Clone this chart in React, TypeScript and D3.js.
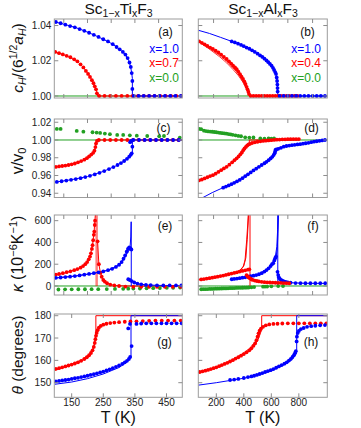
import React from 'react';
import * as d3 from 'd3';

const BLUE = '#0000ff';
const RED = '#ff0000';
const GREEN = '#22a022';
const FONT = 'Liberation Sans, Arial, sans-serif';

// ---------- axes / ticks ----------
const leftDomain = [95, 500];
const rightDomain = [69, 1007];
const leftXLabels = [150, 250, 350, 450];
const rightXLabels = [200, 400, 600, 800];
const leftMinorTicks = [125, 200, 275, 350, 425];
const rightMinorTicks = [180, 360, 540, 720, 900];
const row1Ticks = [1.0, 1.02, 1.04];
const row2Ticks = [0.94, 0.96, 0.98, 1.0, 1.02];
const row3Ticks = [0, 200, 400, 600];
const row4Ticks = [150, 160, 170, 180];
const row1Domain = [0.99886, 1.0437];
const row2Domain = [0.9352, 1.02365];
const row3Domain = [-82.7, 652];
const row4Domain = [143.46, 180.76];

// ---------- panel (a) ----------
const aBlueT = [100,115,130,145,160,175,190,205,220,235,250,265,280,292,302,312,320,327,333,337,340,342,342,346,362,378,395,412,428,445,462,478,495];
const aBlueC = [1.0420,1.0413,1.0405,1.0397,1.0390,1.0380,1.0370,1.0359,1.0347,1.0335,1.0322,1.0310,1.0294,1.0278,1.0265,1.0250,1.0235,1.0215,1.0190,1.0165,1.0130,1.0085,1.0040,1,1,1,1,1,1,1,1,1,1];
const aRedT = [98,110,122,134,146,158,168,178,187,195,202,208,214,219,223,227,230,237,254,272,290,308,326,343,360,378,395,412,430,447,464,481,498];
const aRedC = [1.0250,1.0243,1.0236,1.0228,1.0220,1.0208,1.0197,1.0180,1.0162,1.0142,1.0125,1.0108,1.0090,1.0073,1.0055,1.0038,1.0015,1,1,1,1,1,1,1,1,1,1,1,1,1,1,1,1];
const aBlueLineT = [97,130,160,190,220,250,280,302,320,330,336,340,342,342,500];
const aBlueLineC = [1.0421,1.0405,1.0390,1.0370,1.0347,1.0322,1.0294,1.0265,1.0235,1.0203,1.0170,1.0130,1.0100,1.0,1.0];
const aRedLineT = [97,134,166,187,206,218,227,231,232,500];
const aRedLineC = [1.0251,1.0228,1.0200,1.0162,1.0115,1.0077,1.0040,1.0011,1.0,1.0];

// ---------- panel (b) ----------
const bBlueT = [312,335,358,380,400,420,440,460,480,500,518,535,550,565,578,590,602,612,620,628,634,639,642,644,645,646,660,690,720,750,780,810,840,870,900,930,960,990];
const bBlueC = [1.0310,1.0304,1.0297,1.0290,1.0283,1.0275,1.0268,1.0259,1.0250,1.0240,1.0230,1.0222,1.0212,1.0202,1.0192,1.0182,1.0172,1.0160,1.0148,1.0136,1.0125,1.0105,1.0085,1.0065,1.0045,1.0025,1,1,1,1,1,1,1,1,1,1,1,1];
const bBlueLineT = [69,150,230,312,380,445,500,542,580,603,620,634,643,646,647,1007];
const bBlueLineC = [1.0373,1.0355,1.0333,1.0310,1.0290,1.0266,1.0240,1.0219,1.0190,1.0172,1.0148,1.0125,1.0077,1.0030,1.0,1.0];
const bRedT = [75,95,115,135,155,175,195,215,235,255,275,292,308,322,336,348,360,372,383,394,403,412,420,427,433,438,450,470,490,510,530,550,570,590,610,630,650,670,690,710,730,750,770,790];
const bRedC = [1.0310,1.0302,1.0293,1.0284,1.0275,1.0267,1.0257,1.0247,1.0235,1.0222,1.0210,1.0197,1.0184,1.0172,1.0162,1.0152,1.0138,1.0124,1.0110,1.0097,1.0083,1.0068,1.0052,1.0038,1.0024,1.0011,1,1,1,1,1,1,1,1,1,1,1,1,1,1,1,1,1,1];
const bRedLineT = [75,150,225,275,322,360,394,420,438,445,800];
const bRedLine1C = [1.0310,1.0278,1.0240,1.0210,1.0172,1.0138,1.0097,1.0052,1.0011,1.0,1.0];
const bRedLine2C = [1.0308,1.0272,1.0230,1.0198,1.0160,1.0126,1.0086,1.0044,1.0008,1.0,1.0];
const bRedLine3C = [1.0306,1.0266,1.0222,1.0188,1.0150,1.0116,1.0078,1.0038,1.0005,1.0,1.0];

// ---------- panel (c) ----------
const cGreenT = [103,115,166,187,216,229,240,255,271,294,313,334,356,389,427,442,492];
const cGreenV = [1.0125,1.0125,1.0102,1.0094,1.0087,1.0083,1.0080,1.0072,1.0065,1.0057,1.0057,1.0053,1.0049,1.0045,1.0042,1.0045,1.0026];
const cRedT = [100,110,120,130,140,150,160,170,180,190,198,205,212,218,222,225,227,230,236,254,272,290,308,326,344,362,380,398,416,434,452,470,488];
const cRedV = [0.9697,0.9702,0.9707,0.9712,0.9718,0.9726,0.9735,0.9748,0.9762,0.9778,0.9795,0.9815,0.9836,0.9855,0.9880,0.9920,0.9960,0.9990,1,1,1,1,1,1,1,1,1,1,1,1,1,1,1];
const cRedLineT = [97,130,160,190,205,218,222,225,227,230,233,500];
const cRedLineV = [0.9695,0.9712,0.9735,0.9778,0.9815,0.9855,0.9880,0.9920,0.9960,0.9990,1.0,1.0];
const cBlueT = [103,118,133,148,163,178,193,208,223,238,253,268,282,295,306,316,325,332,337,340,342,335,338,345,363,381,399,417,435,453,471,489];
const cBlueV = [0.9527,0.9535,0.9543,0.9551,0.9560,0.9570,0.9582,0.9596,0.9612,0.9630,0.9650,0.9672,0.9695,0.9718,0.9740,0.9763,0.9788,0.9812,0.9833,0.9850,0.9925,0.9975,0.9990,1,1,1,1,1,1,1,1,1];
const cBlueLineT = [100,150,200,250,290,316,332,340,342,342,500];
const cBlueLineV = [0.9526,0.9553,0.9588,0.9646,0.9708,0.9763,0.9812,0.9850,0.9860,1.0,1.0];

// ---------- panel (d) ----------
const dGreenT = [75,90,110,125,140,155,170,185,200,215,230,245,260,275,290,305,320,340,360,380,410,440,470,520,550,580,600,620];
const dGreenV = [1.0125,1.0122,1.0105,1.0100,1.0097,1.0095,1.0093,1.0090,1.0087,1.0084,1.0080,1.0077,1.0074,1.0071,1.0067,1.0063,1.0058,1.0052,1.0046,1.0042,1.0030,1.0027,1.0028,1.0018,1.0015,1.0018,1.0015,1.0017];
const dRedT = [75,95,115,135,155,175,195,215,235,255,275,295,315,332,348,362,375,386,396,405,415,425,435,445,460,480,500,520,540,560,580,600,620,640,660,680,700,720,740,760,780,800];
const dRedV = [0.9545,0.9555,0.9567,0.9580,0.9593,0.9603,0.9620,0.9640,0.9660,0.9680,0.9698,0.9722,0.9748,0.9772,0.9793,0.9815,0.9838,0.9860,0.9885,0.9905,0.9922,0.9938,0.9950,0.9957,0.9966,0.9974,0.9980,0.9985,0.9989,0.9992,0.9995,0.9998,1.0001,1.0003,1.0005,1.0007,1.0008,1.0009,1.0009,1.0010,1.0010,1.0010];
const dRedLineT = [75,155,235,295,348,386,415,440,440,800];
const dRedLineV = [0.9543,0.9590,0.9658,0.9720,0.9790,0.9858,0.9920,0.9955,1.0,1.0];
const dBlueT = [250,270,290,310,330,350,370,390,410,430,450,470,490,510,530,550,565,580,595,607,617,624,628,630,636,650,670,690,710,730,750,770,790,810,830,850,870,890,910,930,950,970,990];
const dBlueV = [0.9463,0.9475,0.9488,0.9502,0.9517,0.9533,0.9550,0.9570,0.9592,0.9613,0.9635,0.9657,0.9677,0.9698,0.9718,0.9738,0.9754,0.9772,0.9792,0.9810,0.9830,0.9850,0.9870,0.9887,0.9893,0.9900,0.9912,0.9925,0.9932,0.9937,0.9942,0.9946,0.9950,0.9953,0.9958,0.9963,0.9968,0.9975,0.9981,0.9986,0.9991,0.9995,1.0000];
const dBlueLineT = [101,170,251,330,410,490,565,607,624,632,632,690,810,910,990,1007];
const dBlueLineV = [0.9350,0.9407,0.9464,0.9517,0.9592,0.9677,0.9754,0.9810,0.9850,0.9880,0.9900,0.9925,0.9953,0.9981,1.0,1.0];

// ---------- panel (e) ----------
const eRedT = [100,110,122,134,146,158,168,178,186,193,199,204,208,211,214,216,218,220,221.5,223,224,232,236,241,245,250,255,262,272,285,300,320,345,370,395,420,445,470,495];
const eRedV = [105,110,118,127,135,145,155,168,183,200,220,245,270,300,340,375,420,470,500,560,600,410,200,120,85,55,40,25,12,5,0,-5,-8,-8,-8,-8,-8,-8,-8];
const eRedLineT = [97,134,168,193,208,216,221,224,226];
const eRedLineV = [100,125,155,200,270,375,500,620,700];
const eRedPostLineT = [232,236,241,250,262,285,320,500];
const eRedPostLineV = [410,200,120,55,25,5,0,-2];
const eRedVertT = [229,229];
const eRedVertV = [660,0];
const eBlueT = [100,115,130,145,160,175,190,205,220,235,250,265,278,290,300,308,314,319,324,328,332,336,339,329,334,340,348,358,370,385,400,420,440,460,480,497];
const eBlueV = [75,78,82,86,91,97,104,111,118,126,134,145,158,175,195,220,250,280,315,340,355,345,335,62,55,45,32,22,15,10,8,6,5,5,5,5];
const eBlueLine1T = [100,160,220,265,290,308,319,328,335,337,338];
const eBlueLine1V = [73,90,116,143,172,215,275,330,370,450,590];
const eBlueLine2T = [100,160,220,265,290,305,316,326,334,338];
const eBlueLine2V = [75,92,119,147,178,215,265,315,350,360];
const eBlueLine3T = [265,290,305,316,326,334,338];
const eBlueLine3V = [145,175,205,250,300,335,345];
const eBlueVertT = [338.5,338.5];
const eBlueVertV = [590,0];
const eBluePostLineT = [330,340,350,365,390,430,500];
const eBluePostLineV = [65,45,30,18,9,5,4];
const eGreenT = [108,129,150,171,192,213,234,261,287,313,329,345,366,387,408,429,451,471,493];
const eGreenV = [-32,-31,-31,-30,-30,-29,-29,-28,-27,-26,-25,-24,-23,-21,-20,-19,-17,-16,-14];

// ---------- panel (f) ----------
const fRedT = [90,110,130,150,170,190,210,230,250,270,290,310,330,350,370,390,410,430,440,420,428,436,445,455,465,480,495,510,530,550,570,590,610,630,650,670,690,710,730];
const fRedV = [60,64,68,72,76,81,86,91,96,102,108,114,120,126,132,138,144,150,153,100,88,78,70,62,56,50,46,42,38,35,33,32,31,30,29,28,27,26,25];
const fRedLine1T = [69,150,250,330,372,395,409,421,428,433];
const fRedLine1V = [55,70,94,118,140,175,239,423,560,680];
const fRedLine2T = [69,150,250,330,372,400,415,425,431,436];
const fRedLine2V = [60,75,99,122,145,185,260,430,560,680];
const fRedVertT = [445,445];
const fRedVertV = [660,0];
const fRedPostLineT = [445,460,480,520,600,740];
const fRedPostLineV = [75,58,48,38,30,24];
const fBlueT = [312,330,350,370,390,410,430,450,470,490,510,530,550,565,580,595,605,614,622,628,634,645,650,655,662,670,680,692,705,720,740,776,812,848,884,920,956,992];
const fBlueV = [62,65,68,72,76,80,85,90,95,100,108,118,132,146,162,183,200,210,235,255,270,130,100,80,65,55,48,42,37,33,30,27,26,25,25,25,25,25];
const fBlueLine1T = [312,400,494,566,614,634,643,648,652];
const fBlueLine1V = [58,74,98,145,205,262,340,480,660];
const fBlueLine2T = [312,400,494,566,610,630,640,646,650];
const fBlueLine2V = [62,78,102,150,215,275,360,520,660];
const fBlueVertT = [647,647];
const fBlueVertV = [660,0];
const fBluePostLineT = [647,660,690,740,850,1007];
const fBluePostLineV = [120,68,44,30,25,24];
const fGreenT = [90,105,120,135,150,165,180,195,210,225,240,255,270,285,300,315,330,345,360,375,390,405,420,435,455,475,540,555,570,600,650,685];
const fGreenV = [-30,-29,-29,-28,-27,-27,-26,-25,-25,-24,-23,-22,-22,-21,-20,-20,-19,-18,-17,-17,-16,-15,-15,-14,-12,-10,-6,-5,-5,-3,-1,0];

// ---------- panel (g) ----------
const gRedT = [100,110,120,130,140,150,160,170,180,190,198,205,211,216,220,223,225,227,229,232,236,242,250,260,272,285,300,318,336,355,375,395,415,435,455,475,495];
const gRedV = [156.2,156.5,156.9,157.3,157.7,158.1,158.6,159.1,159.8,160.6,161.4,162.3,163.3,164.5,166.0,167.8,169.5,171.0,172.3,173.5,174.6,175.4,176.0,176.4,176.7,176.9,177.1,177.3,177.4,177.5,177.6,177.7,177.8,177.8,177.8,177.8,177.8];
const gRedLine1T = [97,140,180,205,216,222,225,226.5,226.5,500];
const gRedLine1V = [155.6,157.5,159.6,162.0,164.2,166.7,169.5,172.0,180,180];
const gRedLine2T = [97,140,180,205,216,222,225,226.5];
const gRedLine2V = [155.8,157.8,160.1,162.6,165.0,167.5,170.3,173.0];
const gBlueT = [100,110,120,130,140,150,160,170,180,190,200,210,220,230,240,250,260,270,280,290,300,310,318,325,331,335,339.6,329,334.5,355,370,386,402,418,434,450,466,482,498];
const gBlueV = [150.6,150.8,151.0,151.2,151.4,151.7,152.0,152.2,152.5,152.8,153.1,153.5,153.8,154.2,154.6,155.0,155.5,156.0,156.5,157.1,157.7,158.4,159.1,159.8,160.6,161.5,166.4,174.3,176.3,176.3,176.5,176.6,176.6,176.6,176.6,176.6,176.6,176.6,176.6];
const gBlueLineT = [97,150,200,250,300,325,335,337.7,337.7,500];
const gBlueLineV = [149.3,150.3,151.8,153.9,156.8,159.2,161.0,162.0,180,180];

// ---------- panel (h) ----------
const hRedT = [80,100,120,140,160,180,200,220,240,260,280,300,320,340,360,380,400,420,440,455,470,482,492,500,507,515,525,540,560,585,615,645,680,720,760,800,840,880,920,960,1000];
const hRedV = [154.8,155.1,155.4,155.7,156.1,156.5,156.9,157.4,157.9,158.4,158.9,159.5,160.1,160.8,161.4,162.1,162.8,163.6,164.5,165.4,166.5,167.6,169.0,170.6,172.1,173.3,174.2,175.0,175.7,176.1,176.3,176.4,176.5,176.6,176.6,176.6,176.6,176.6,176.6,176.6,176.6];
const hRedLine1T = [69,200,300,380,440,480,505,520,530,530,1007];
const hRedLine1V = [154.5,156.7,159.3,161.9,164.2,166.8,169.5,172.0,174.0,180,180];
const hRedLine2T = [69,200,300,380,440,480,505,520,530];
const hRedLine2V = [154.5,156.9,159.7,162.6,165.2,168.0,170.8,173.0,174.5];
const hBlueT = [300,330,360,400,430,455,475,495,515,535,555,575,595,615,635,655,675,695,712,728,742,754,764,772,778,784,786,792,800,815,835,860,890,920,955,990];
const hBlueV = [151.2,151.4,151.7,152.1,152.5,152.8,153.1,153.5,153.9,154.3,154.8,155.2,155.6,156.1,156.7,157.3,157.9,158.5,159.1,159.9,160.7,161.5,162.3,163.2,164.1,168.5,170.6,172.2,173.2,174.0,174.5,175.0,175.3,175.5,175.7,175.8];
const hBlueLineT = [69,200,300,400,500,600,700,750,775,784.5,784.5,1007];
const hBlueLineV = [148.9,150.0,151.0,152.0,153.4,155.3,158.2,160.3,162.5,164.5,180,180];

// ---------- layout ----------
const COLS = [[54.3, 182.3], [198.3, 327.3]];
const ROWS = [[19, 98], [119, 197.5], [215, 295], [314, 397.3]];

type Layer = { kind: 'line' | 'dots'; T: number[]; V: number[]; color: string; w?: number; op?: number };

const L = (T: number[], V: number[], color: string, w = 1, op = 1): Layer => ({ kind: 'line', T, V, color, w, op });
const D = (T: number[], V: number[], color: string): Layer => ({ kind: 'dots', T, V, color });

function Panel(props: {
  id: string; col: number; row: number; yDomain: number[]; yTicks: number[]; yFmt: (v: number) => string;
  layers: Layer[]; xTicks: number[]; xLabels?: number[]; letter: string; letterX: number; letterY: number; showY: boolean;
}) {
  const { id, col, row, yDomain, yTicks, yFmt, layers, xTicks, xLabels, letter, letterX, letterY, showY } = props;
  const [x0, x1] = COLS[col];
  const [y0, y1] = ROWS[row];
  const xs = d3.scaleLinear().domain(col === 0 ? leftDomain : rightDomain).range([x0, x1]);
  const ys = d3.scaleLinear().domain(yDomain).range([y1, y0]);
  const line = d3.line<[number, number]>().x(d => xs(d[0])).y(d => ys(d[1]));
  const tk = '#8c8c8c';
  const baseV = row === 2 ? 0 : 1;
  return (
    <g>
      <defs>
        <clipPath id={id}>
          <rect x={x0} y={y0} width={x1 - x0} height={y1 - y0} />
        </clipPath>
      </defs>
      <g clipPath={`url(#${id})`}>
        {row !== 3 && <line x1={x0} x2={x1} y1={ys(baseV)} y2={ys(baseV)} stroke={GREEN} strokeWidth={1} />}
        {layers.filter(l => l.kind === 'line').map((l, i) => (
          <path key={'l' + i} d={line(l.T.map((t, j) => [t, l.V[j]] as [number, number])) || ''} fill="none" stroke={l.color} strokeWidth={l.w} strokeOpacity={l.op} />
        ))}
        {layers.filter(l => l.kind === 'dots').map((l, i) => (
          <g key={'d' + i} fill={l.color}>
            {l.T.map((t, j) => <circle key={j} cx={xs(t)} cy={ys(l.V[j])} r={1.9} />)}
          </g>
        ))}
      </g>
      <rect x={x0} y={y0} width={x1 - x0} height={y1 - y0} fill="none" stroke="#9c9c9c" strokeWidth={1} />
      {yTicks.map(v => (
        <g key={'yt' + v}>
          <line x1={x0} x2={x0 + 4} y1={ys(v)} y2={ys(v)} stroke={tk} />
          <line x1={x1 - 4} x2={x1} y1={ys(v)} y2={ys(v)} stroke={tk} />
          {showY && (
            <text x={x0 - 3} y={ys(v) + 3.6} textAnchor="end" fontSize={10} fill="#222" fontFamily={FONT}>{yFmt(v)}</text>
          )}
        </g>
      ))}
      {xTicks.map(t => (
        <g key={'xt' + t}>
          <line x1={xs(t)} x2={xs(t)} y1={y1} y2={y1 - 4} stroke={tk} />
          <line x1={xs(t)} x2={xs(t)} y1={y0} y2={y0 + 4} stroke={tk} />
        </g>
      ))}
      {xLabels && xLabels.map(t => (
        <text key={'xl' + t} x={xs(t)} y={405.5} textAnchor="middle" fontSize={10} fill="#222" fontFamily={FONT}>{t}</text>
      ))}
      <text x={letterX} y={letterY} textAnchor="middle" fontSize={12} fill="#111" fontFamily={FONT}>{letter}</text>
    </g>
  );
}

export default function App() {
  const f2 = (v: number) => v.toFixed(2);
  const f0 = (v: number) => String(v);
  return (
    <svg width={361} height={428} style={{ position: 'absolute', left: 0, top: 0, background: '#fff' }} fontFamily={FONT}>
      <rect x={0} y={0} width={361} height={428} fill="#fff" />
      {/* titles */}
      <text x={118.5} y={14} textAnchor="middle" fontSize={15.5} fill="#111">
        Sc<tspan fontSize={10.5} dy={3}>1−x</tspan><tspan dy={-3}>Ti</tspan><tspan fontSize={10.5} dy={3}>x</tspan><tspan dy={-3}>F</tspan><tspan fontSize={10.5} dy={3}>3</tspan>
      </text>
      <text x={263} y={14} textAnchor="middle" fontSize={15.5} fill="#111">
        Sc<tspan fontSize={10.5} dy={3}>1−x</tspan><tspan dy={-3}>Al</tspan><tspan fontSize={10.5} dy={3}>x</tspan><tspan dy={-3}>F</tspan><tspan fontSize={10.5} dy={3}>3</tspan>
      </text>

      <Panel id="pa" col={0} row={0} yDomain={row1Domain} yTicks={row1Ticks} yFmt={f2} showY xTicks={leftMinorTicks}
        letter="(a)" letterX={165.5} letterY={36}
        layers={[L(aRedLineT, aRedLineC, RED), L(aBlueLineT, aBlueLineC, BLUE), D(aRedT, aRedC, RED), D(aBlueT, aBlueC, BLUE)]} />
      <Panel id="pb" col={1} row={0} yDomain={row1Domain} yTicks={row1Ticks} yFmt={f2} showY={false} xTicks={rightMinorTicks}
        letter="(b)" letterX={307.5} letterY={36}
        layers={[L(bRedLineT, bRedLine1C, RED, 0.8), L(bRedLineT, bRedLine2C, RED, 0.8), L(bRedLineT, bRedLine3C, RED, 0.8), L(bBlueLineT, bBlueLineC, BLUE), D(bRedT, bRedC, RED), D(bBlueT, bBlueC, BLUE)]} />

      <Panel id="pc" col={0} row={1} yDomain={row2Domain} yTicks={row2Ticks} yFmt={f2} showY xTicks={leftMinorTicks}
        letter="(c)" letterX={163.5} letterY={131.5}
        layers={[L(cRedLineT, cRedLineV, RED), L(cBlueLineT, cBlueLineV, BLUE), D(cGreenT, cGreenV, GREEN), D(cRedT, cRedV, RED), D(cBlueT, cBlueV, BLUE)]} />
      <Panel id="pd" col={1} row={1} yDomain={row2Domain} yTicks={row2Ticks} yFmt={f2} showY={false} xTicks={rightMinorTicks}
        letter="(d)" letterX={311.5} letterY={131.5}
        layers={[L(dRedLineT, dRedLineV, RED), L(dBlueLineT, dBlueLineV, BLUE), D(dGreenT, dGreenV, GREEN), D(dRedT, dRedV, RED), D(dBlueT, dBlueV, BLUE)]} />

      <Panel id="pe" col={0} row={2} yDomain={row3Domain} yTicks={row3Ticks} yFmt={f0} showY xTicks={leftMinorTicks}
        letter="(e)" letterX={165} letterY={229.5}
        layers={[L(eRedVertT, eRedVertV, RED, 2.5, 0.5), L(eRedLineT, eRedLineV, RED), L(eRedPostLineT, eRedPostLineV, RED),
          L(eBlueLine2T, eBlueLine2V, BLUE, 0.8), L(eBlueLine3T, eBlueLine3V, BLUE, 0.8), L(eBlueLine1T, eBlueLine1V, BLUE),
          L(eBlueVertT, eBlueVertV, BLUE), L(eBluePostLineT, eBluePostLineV, BLUE),
          D(eGreenT, eGreenV, GREEN), D(eRedT, eRedV, RED), D(eBlueT, eBlueV, BLUE)]} />
      <Panel id="pf" col={1} row={2} yDomain={row3Domain} yTicks={row3Ticks} yFmt={f0} showY={false} xTicks={rightMinorTicks}
        letter="(f)" letterX={313} letterY={229.5}
        layers={[L(fRedLine1T, fRedLine1V, RED), L(fRedLine2T, fRedLine2V, RED), L(fRedVertT, fRedVertV, RED), L(fRedPostLineT, fRedPostLineV, RED),
          L(fBlueLine1T, fBlueLine1V, BLUE), L(fBlueLine2T, fBlueLine2V, BLUE), L(fBlueVertT, fBlueVertV, BLUE), L(fBluePostLineT, fBluePostLineV, BLUE),
          D(fGreenT, fGreenV, GREEN), D(fBlueT, fBlueV, BLUE), D(fRedT, fRedV, RED)]} />

      <Panel id="pg" col={0} row={3} yDomain={row4Domain} yTicks={row4Ticks} yFmt={f0} showY xTicks={leftXLabels} xLabels={leftXLabels}
        letter="(g)" letterX={164.5} letterY={345.5}
        layers={[L(gRedLine1T, gRedLine1V, RED), L(gRedLine2T, gRedLine2V, RED, 0.8), L(gBlueLineT, gBlueLineV, BLUE), D(gRedT, gRedV, RED), D(gBlueT, gBlueV, BLUE)]} />
      <Panel id="ph" col={1} row={3} yDomain={row4Domain} yTicks={row4Ticks} yFmt={f0} showY={false} xTicks={rightXLabels} xLabels={rightXLabels}
        letter="(h)" letterX={311} letterY={345.5}
        layers={[L(hRedLine1T, hRedLine1V, RED), L(hRedLine2T, hRedLine2V, RED, 0.8), L(hBlueLineT, hBlueLineV, BLUE), D(hRedT, hRedV, RED), D(hBlueT, hBlueV, BLUE)]} />

      {/* legends */}
      <g fontSize={12} textAnchor="end">
        <text x={179} y={52.5} fill={BLUE}>x=1.0</text>
        <text x={179} y={67} fill={RED}>x=0.7</text>
        <text x={179} y={81.5} fill={GREEN}>x=0.0</text>
        <text x={321} y={52.5} fill={BLUE}>x=1.0</text>
        <text x={321} y={67} fill={RED}>x=0.4</text>
        <text x={321} y={81.5} fill={GREEN}>x=0.0</text>
      </g>

      {/* y axis titles */}
      <text transform="translate(23,58) rotate(-90)" textAnchor="middle" fontSize={15.5} fill="#111">
        <tspan fontStyle="italic">c</tspan><tspan fontStyle="italic" fontSize={10.5} dy={3}>H</tspan><tspan dy={-3}>/(6</tspan><tspan fontSize={10.5} dy={-6}>1/2</tspan><tspan dy={6} fontStyle="italic">a</tspan><tspan fontStyle="italic" fontSize={10.5} dy={3}>H</tspan><tspan dy={-3}>)</tspan>
      </text>
      <text transform="translate(23,161) rotate(-90)" textAnchor="middle" fontSize={16} fill="#111">
        v/v<tspan fontSize={11} dy={3}>0</tspan>
      </text>
      <text transform="translate(23,254) rotate(-90)" textAnchor="middle" fontSize={16} fill="#111">
        <tspan fontStyle="italic">κ</tspan> (10<tspan fontSize={11} dy={-6}>−6</tspan><tspan dy={6}>K</tspan><tspan fontSize={11} dy={-6}>−1</tspan><tspan dy={6}>)</tspan>
      </text>
      <text transform="translate(23,355) rotate(-90)" textAnchor="middle" fontSize={15.5} fill="#111">
        <tspan fontStyle="italic">θ</tspan> (degrees)
      </text>

      {/* x axis titles */}
      <text x={118.3} y={423} textAnchor="middle" fontSize={16} fill="#111">T (K)</text>
      <text x={262.8} y={423} textAnchor="middle" fontSize={16} fill="#111">T (K)</text>
    </svg>
  );
}
